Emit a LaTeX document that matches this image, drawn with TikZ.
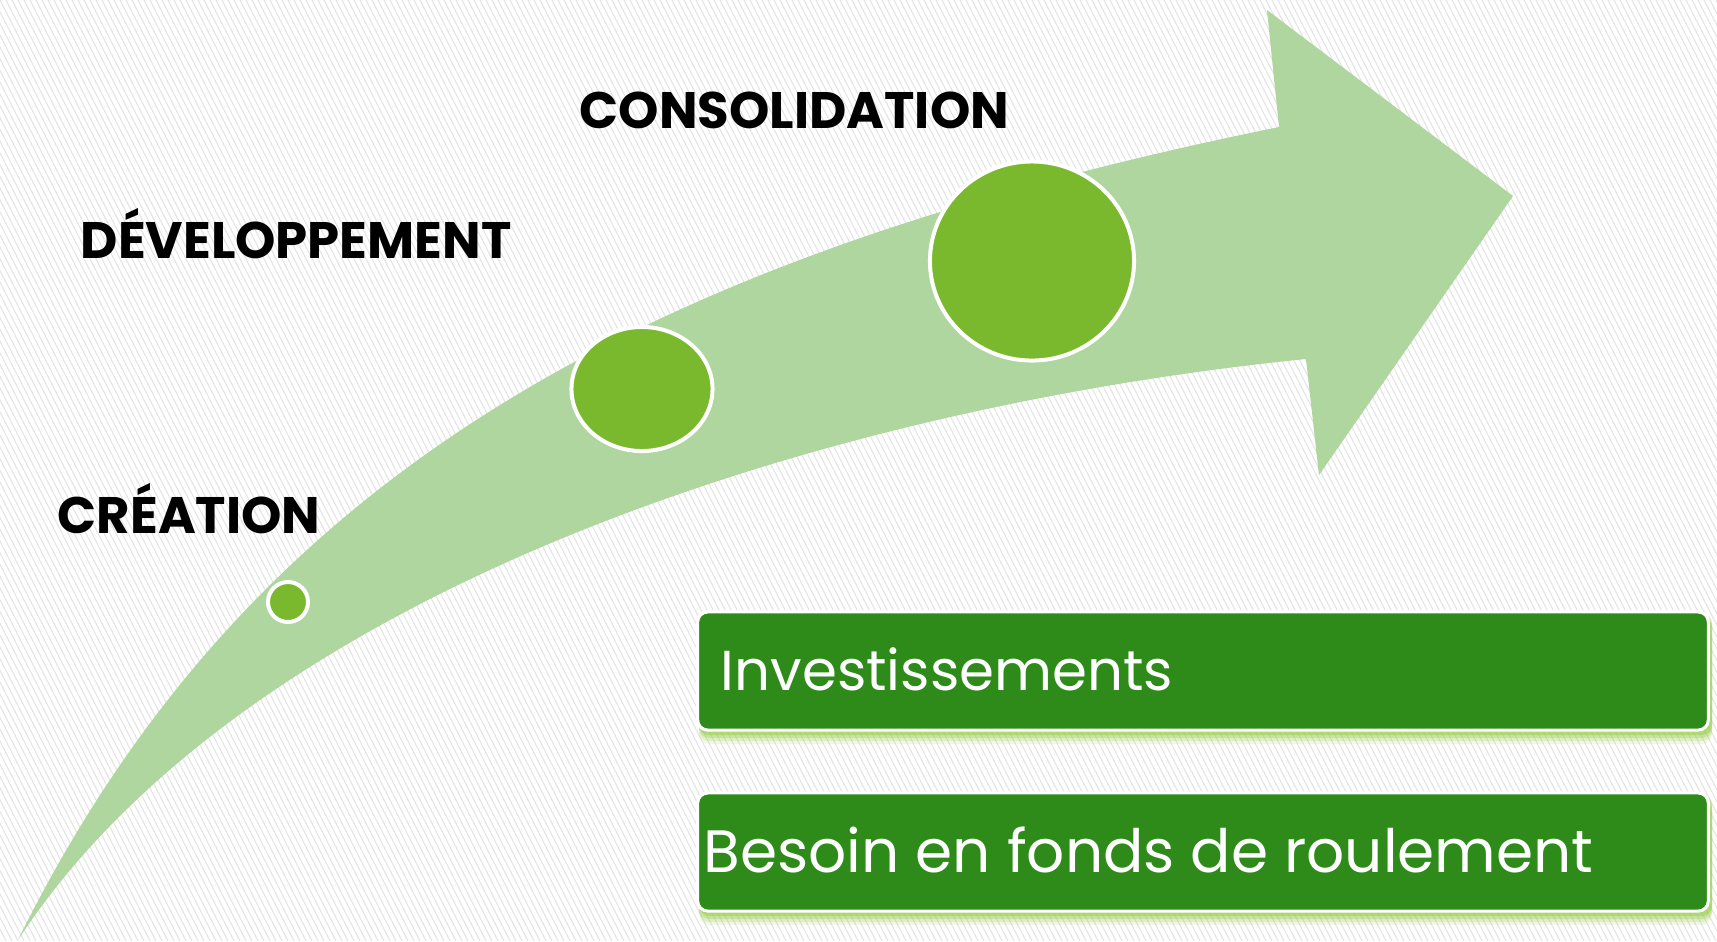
\documentclass[tikz,border=0pt]{standalone}
\usepackage{fontspec}
\setmainfont{Poppins}
\usepackage{tikz}
\usetikzlibrary{positioning,shapes.geometric}

\definecolor{arrowgreen}{RGB}{174,214,158}
\definecolor{dotgreen}{RGB}{122,185,45}
\definecolor{boxgreen}{RGB}{46,139,26}
\definecolor{glowgreen}{RGB}{150,205,70}
\definecolor{hatchgray}{RGB}{228,228,228}

\tikzset{
  stage/.style={anchor=base west, inner sep=0pt, text=black, font=\fontsize{14.6}{18}\selectfont\bfseries},
  dot/.style={ellipse, fill=dotgreen, draw=white, line width=0.04cm, inner sep=0pt},
  box/.style={rectangle, rounded corners=0.1cm, fill=boxgreen, draw=white, line width=0.03cm,
              minimum width=10.1cm, minimum height=1.18cm, inner sep=0pt},
  boxtext/.style={anchor=base west, inner sep=0pt, text=white}
}

\begin{document}
\begin{tikzpicture}[x=0.01cm, y=-0.01cm]

%% Size of the slide
\useasboundingbox (0,0) rectangle (1717,941);
\fill[white] (0,0) rectangle (1717,941);

%% Hatched background
\begin{scope}
\clip (0,0) rectangle (1717,941);
\foreach \i in {-480,-474,...,1717}
  \draw[hatchgray, line width=0.3pt] (\i,0) -- ++(480,941);
\end{scope}

%% Curved arrow
\fill[arrowgreen] (18,940) .. controls (240,600) and (800,410) .. (1306,359)
  -- (1319,475) -- (1513,196) -- (1267,10) -- (1279,127)
  .. controls (650,255) and (250,470) .. (18,940) -- cycle;

%% Stages
\node[dot, minimum width=0.40cm, minimum height=0.40cm] (creation) at (288,602) {};
\node[dot, minimum width=1.41cm, minimum height=1.24cm] (developpement) at (642,389) {};
\node[dot, minimum width=2.04cm, minimum height=1.99cm] (consolidation) at (1032,261) {};

\node[stage] (creationlabel) at (57,533) {CRÉATION};
\node[stage] (developpementlabel) at (80,258) {DÉVELOPPEMENT};
\node[stage] (consolidationlabel) at (579,128) {CONSOLIDATION};

%% Glow under the boxes
\foreach \s/\o in {12/0.12, 9/0.2, 6/0.3, 3/0.45}{
  \fill[glowgreen, opacity=\o, rounded corners=0.1cm] (699,611+\s) rectangle (1712,732+\s);
  \fill[glowgreen, opacity=\o, rounded corners=0.1cm] (699,792+\s) rectangle (1712,913+\s);
}

%% Needs
\node[box] (invest) at (1203,671) {};
\node[box] (bfr) at (1203,852) {};
\node[boxtext, font=\fontsize{16}{19}\selectfont] (investtext) at (720,690) {Investissements};
\node[boxtext, font=\fontsize{17}{21}\selectfont] (bfrtext) at (703,872) {Besoin en fonds de roulement};

\end{tikzpicture}
\end{document}
